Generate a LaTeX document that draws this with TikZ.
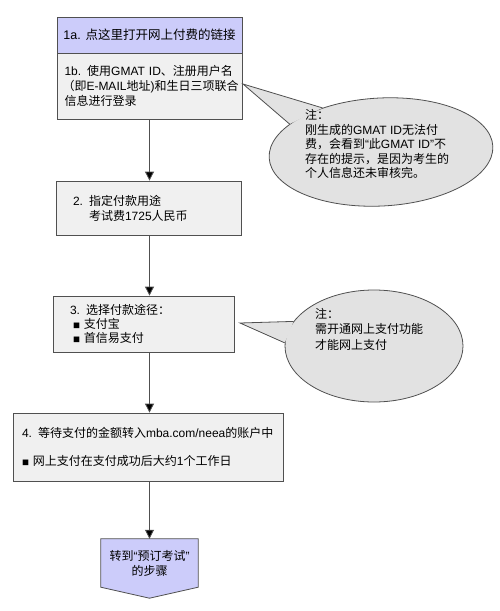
\documentclass[tikz,border=0pt]{standalone}
\usepackage{fontspec}
\setmainfont{Noto Sans CJK SC}
\newfontfamily\latf{Liberation Sans}
\newcommand\la[1]{{\latf #1}}
\newcommand\bul{{\fontsize{7}{7}\selectfont ■}}
\usetikzlibrary{arrows.meta,shapes.geometric,backgrounds,calc}
\definecolor{lav}{RGB}{204,204,250}
\definecolor{boxgray}{RGB}{240,240,240}
\definecolor{ellgray}{RGB}{226,226,226}
\definecolor{edge}{RGB}{80,80,80}
\begin{document}
\begin{tikzpicture}[x=1pt,y=-1pt,
  font=\fontsize{12}{15}\selectfont,
  box/.style={draw=edge, line width=0.8pt, fill=boxgray, inner sep=0pt},
  arr/.style={draw=edge, line width=0.8pt, -{Triangle[width=9pt,length=9pt,fill=black]}},
  callout/.style={shape=ellipse, draw=edge, line width=0.8pt, fill=ellgray, inner sep=0pt},
  tail/.style={draw=edge, line width=0.8pt},
  note/.style={align=left, inner sep=0pt, font=\fontsize{12}{14.5}\selectfont}]
\useasboundingbox (0,0) rectangle (499,611);

% boxes
\node[box, fill=lav, minimum width=185pt, minimum height=36pt, font=\fontsize{12.5}{15}\selectfont] (a) at (149.5,35) {\la{1a. }点这里打开网上付费的链接};
\node[box, minimum width=185pt, minimum height=66pt, text width=170pt, align=left] (b) at (149.5,86)
  {\mbox{\la{1b. }使用\la{GMAT ID}、注册用户名}\\\mbox{\hspace*{-2pt}（即\la{E-MAIL}地址\la{)}和生日三项联合}\\信息进行登录};
\node[box, minimum width=185pt, minimum height=54pt, text width=151pt, align=left] (c2) at (148.5,208)
  {\la{2. }指定付款用途\\\hspace*{16pt}考试费\la{1725}人民币};
\node[box, minimum width=181pt, minimum height=56pt, text width=147pt, align=left,
  font=\fontsize{12}{14}\selectfont] (c3) at (143.5,324)
  {\la{3. }选择付款途径：\\\hspace*{3pt}\bul\ 支付宝\\\hspace*{3pt}\bul\ 首信易支付};
\node[box, minimum width=270pt, minimum height=68pt, text width=252pt, align=left] (c4) at (148,447)
  {\mbox{\la{4. }等待支付的金额转入\la{mba.com/neea}的账户中}\\[13pt]\bul\ 网上支付在支付成功后大约\la{1}个工作日};
\node[minimum width=97pt, minimum height=48pt, inner sep=0pt, align=center] (f) at (149.5,563)
  {转到\la{“}预订考试\la{”}\\的步骤};
\begin{scope}[on background layer]
  \draw[draw=edge, line width=0.8pt, fill=lav] (f.north west) -- (f.north east) -- (f.south east)
    -- ($(f.south)+(0,11)$) -- (f.south west) -- cycle;
\end{scope}

% connectors
\draw[arr] (b.south -| f) -- (c2.north -| f);
\draw[arr] (c2.south -| f) -- (c3.north -| f);
\draw[arr] (c3.south -| f) -- (c4.north -| f);
\draw[arr] (c4.south -| f) -- (f.north);

% callout 1
\node[callout, minimum width=224pt, minimum height=108pt, rotate=3] (e1) at (381,152) {};
\coordinate (t1) at (243,84);
\fill[ellgray] (t1) -- (e1.140) -- (e1.160) -- cycle;
\draw[tail] (e1.140) -- (t1) -- (e1.160);
\node[note] (n1) at (377,144)
  {注：\\刚生成的\la{GMAT ID}无法付\\费，会看到\la{“}此\la{GMAT ID”}不\\存在的提示，是因为考生的\\个人信息还未审核完。};

% callout 2
\node[callout, minimum width=178pt, minimum height=112pt] (e2) at (374,346) {};
\coordinate (t2) at (240,323);
\fill[ellgray] (t2) -- (e2.163) -- (e2.178) -- cycle;
\draw[tail] (e2.163) -- (t2) -- (e2.178);
\node[note, font=\fontsize{12}{15.5}\selectfont] (n2) at (369,329)
  {注：\\需开通网上支付功能\\才能网上支付};
\end{tikzpicture}
\end{document}
